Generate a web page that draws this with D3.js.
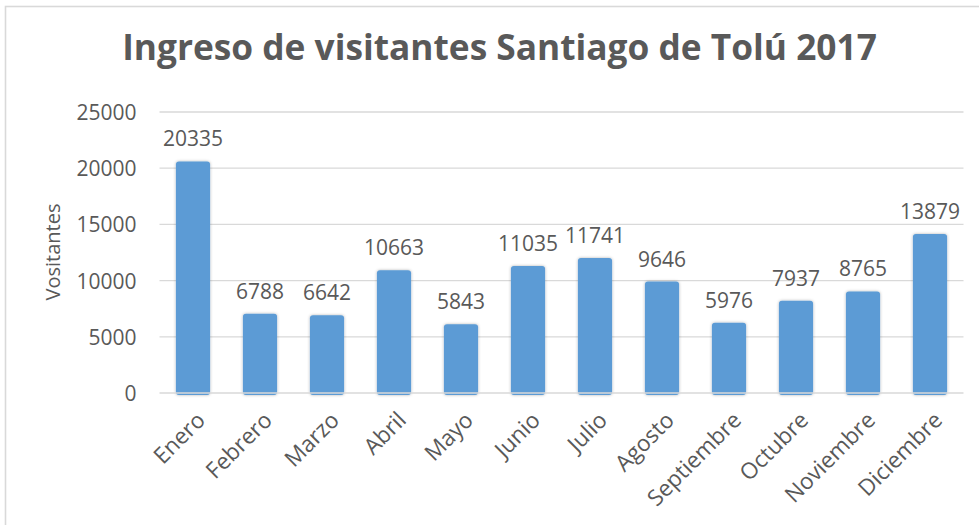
<!DOCTYPE html>
<html>
<head>
<meta charset="utf-8">
<script src="https://cdn.jsdelivr.net/npm/d3@7"></script>
<style>
  body { margin: 0; background: #fff; }
  svg text { font-family: "Open Sans", sans-serif; fill: #595959; }
</style>
</head>
<body>
<svg id="chart" width="979" height="525"></svg>
<script>
// chart data
const months = ['Enero', 'Febrero', 'Marzo', 'Abril', 'Mayo', 'Junio', 'Julio',
  'Agosto', 'Septiembre', 'Octubre', 'Noviembre', 'Diciembre'];
const visitors = [20335, 6788, 6642, 10663, 5843, 11035, 11741, 9646, 5976, 7937, 8765, 13879];
const yTicks = [0, 5000, 10000, 15000, 20000, 25000];
const title = 'Ingreso de visitantes Santiago de Tolú 2017';
const yLabel = 'Vositantes';

const margin = {top: 112, left: 159.5, bottom: 132, right: 15.5};
const width = 979 - margin.left - margin.right;
const height = 525 - margin.top - margin.bottom;

const svg = d3.select('#chart');

// outer frame (only top/left edges are visible in the picture)
svg.append('rect')
  .attr('x', 5.5).attr('y', 6.5)
  .attr('width', 1200).attr('height', 800)
  .attr('fill', 'none')
  .attr('stroke', '#d9d9d9')
  .attr('stroke-width', 1.6);

const defs = svg.append('defs');
const shadow = defs.append('filter').attr('id', 'shadow')
  .attr('x', '-30%').attr('y', '-10%').attr('width', '160%').attr('height', '120%');
shadow.append('feDropShadow')
  .attr('dx', 0).attr('dy', 0).attr('stdDeviation', 1.4)
  .attr('flood-color', '#000').attr('flood-opacity', 0.3);

const g = svg.append('g').attr('transform', 'translate(' + margin.left + ',' + margin.top + ')');

const x = d3.scaleBand().domain(months).range([0, width]).paddingInner(0.49).paddingOuter(0.245);
const y = d3.scaleLinear().domain([0, 25000]).range([height, 0]);

// gridlines
g.append('g')
  .selectAll('line')
  .data(yTicks.filter(d => d > 0))
  .enter().append('line')
  .attr('x1', 0).attr('x2', width)
  .attr('y1', d => y(d)).attr('y2', d => y(d))
  .attr('stroke', '#d9d9d9').attr('stroke-width', 1.3);

// y axis labels
const yAxis = d3.axisLeft(y).tickValues(yTicks).tickFormat(d3.format('d')).tickSize(0).tickPadding(23);
const yG = g.append('g').call(yAxis);
yG.select('.domain').remove();
yG.selectAll('text').style('font-size', '21px').attr('fill', '#595959').attr('dy', '0.36em');

// bars
g.selectAll('.bar')
  .data(visitors)
  .enter().append('rect')
  .attr('class', 'bar')
  .attr('x', (d, i) => x(months[i]))
  .attr('width', x.bandwidth())
  .attr('y', d => y(d) - 3)
  .attr('height', d => height - y(d) + 5)
  .attr('rx', 3)
  .attr('fill', '#5b9bd5')
  .attr('filter', 'url(#shadow)');

// baseline over the bars
g.append('line')
  .attr('x1', 0).attr('x2', width)
  .attr('y1', y(0)).attr('y2', y(0))
  .attr('stroke', '#d9d9d9').attr('stroke-width', 1.6);

// data labels
g.selectAll('.val')
  .data(visitors)
  .enter().append('text')
  .attr('class', 'val')
  .attr('x', (d, i) => x(months[i]) + x.bandwidth() / 2)
  .attr('y', d => y(d) - 18)
  .attr('text-anchor', 'middle')
  .style('font-size', '21px')
  .text(d => d);

// category labels, rotated
const xAxis = d3.axisBottom(x).tickSize(0).tickPadding(0);
const xG = g.append('g').attr('transform', 'translate(0,' + height + ')').call(xAxis);
xG.select('.domain').remove();
xG.selectAll('text')
  .style('font-size', '22.5px')
  .attr('fill', '#595959')
  .attr('text-anchor', 'end')
  .attr('dy', '0.35em')
  .attr('y', 0)
  .attr('transform', 'translate(8,23) rotate(-45)');

// axis title
svg.append('text')
  .attr('transform', 'translate(60,252) rotate(-90)')
  .attr('text-anchor', 'middle')
  .style('font-size', '20px')
  .text(yLabel);

// chart title, fitted to the width seen in the picture
const t = svg.append('text')
  .attr('x', 499.5).attr('y', 60)
  .attr('text-anchor', 'middle')
  .style('font-size', '36px')
  .style('font-weight', 'bold')
  .text(title);
const tw = t.node().getComputedTextLength();
t.style('font-size', (36 * 755 / tw) + 'px');
</script>
</body>
</html>
